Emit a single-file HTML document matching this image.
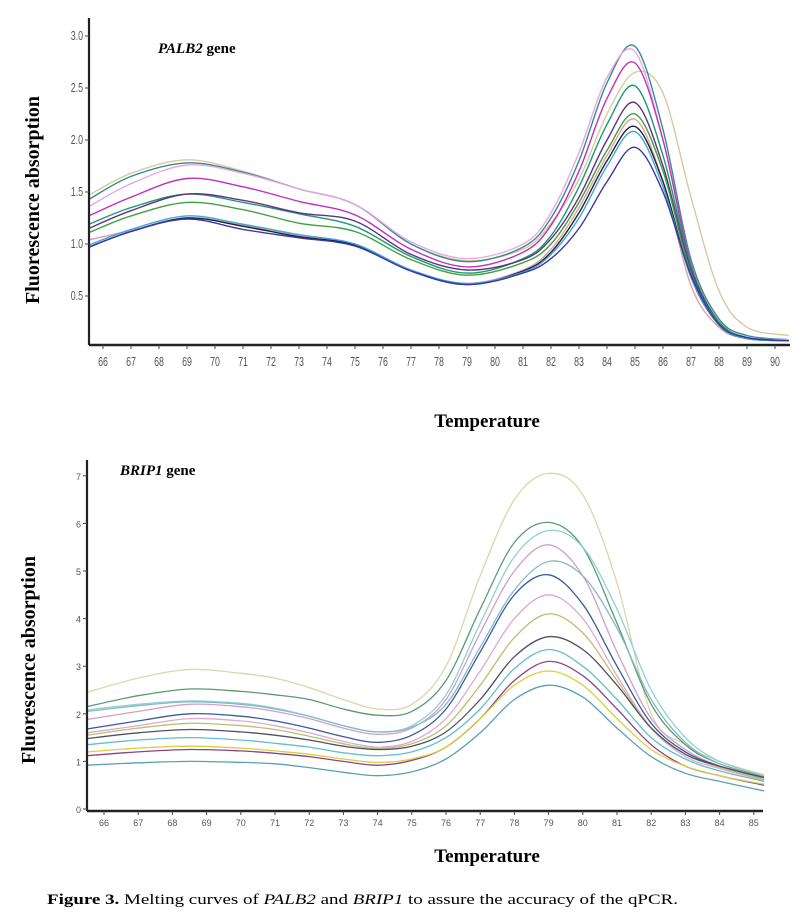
<!DOCTYPE html>
<html><head><meta charset="utf-8">
<style>
html,body{margin:0;padding:0;background:#fff;}
svg{display:block;}
.tick{font-family:"Liberation Sans",sans-serif;fill:#555;}
.serif{font-family:"Liberation Serif",serif;}
</style></head>
<body>
<svg id="fig" width="793" height="920" viewBox="0 0 793 920">
  <g id="top"></g>
  <g id="bot"></g>
  <text class="serif" x="158" y="53" font-size="15" font-weight="bold"><tspan font-style="italic">PALB2</tspan> gene</text>
  <text class="serif" transform="translate(39,200) rotate(-90)" text-anchor="middle" font-size="20" font-weight="bold">Fluorescence absorption</text>
  <text class="serif" x="487" y="427" text-anchor="middle" font-size="19" font-weight="bold">Temperature</text>
  <text class="serif" x="120" y="475" font-size="15" font-weight="bold"><tspan font-style="italic">BRIP1</tspan> gene</text>
  <text class="serif" transform="translate(35,660) rotate(-90)" text-anchor="middle" font-size="20" font-weight="bold">Fluorescence absorption</text>
  <text class="serif" x="487" y="862" text-anchor="middle" font-size="19" font-weight="bold">Temperature</text>
  <text class="serif" x="47" y="904" font-size="15" textLength="631" lengthAdjust="spacingAndGlyphs"><tspan font-weight="bold">Figure 3.</tspan> Melting curves of <tspan font-style="italic">PALB2</tspan> and <tspan font-style="italic">BRIP1</tspan> to assure the accuracy of the qPCR.</text>
</svg>
<script>
// ---- PALB2 data ----
const topTemps = [65.5,67,69,71,73,75,77,79,81,82,83,84,85,86,87,88,89,90.5];
const topXTicks = [66,67,68,69,70,71,72,73,74,75,76,77,78,79,80,81,82,83,84,85,86,87,88,89,90];
const topYTicks = [0.5,1.0,1.5,2.0,2.5,3.0];
const topColors = ["#d8c9a0","#3a8a8a","#e8a8e8","#c030c0","#1a9a70","#603080","#40a040","#e0a0a0","#202030","#40a8d8","#3838a8"];
const topTan = [1.47,1.68,1.81,1.70,1.53,1.38,1.00,0.84,0.95,1.20,1.62,2.25,2.65,2.45,1.45,0.55,0.20,0.12];
const topTeal = [1.43,1.65,1.78,1.69,1.53,1.38,1.00,0.83,0.97,1.25,1.80,2.55,2.90,2.10,0.85,0.28,0.12,0.08];
const topPink = [1.36,1.58,1.76,1.68,1.53,1.38,1.02,0.86,1.00,1.30,1.88,2.60,2.85,2.00,0.80,0.25,0.10,0.08];
const topMagenta = [1.27,1.45,1.63,1.55,1.41,1.28,0.95,0.78,0.92,1.18,1.70,2.40,2.74,2.00,0.80,0.25,0.10,0.07];
const topSeaGreen = [1.19,1.35,1.48,1.40,1.29,1.17,0.88,0.72,0.86,1.08,1.55,2.15,2.52,1.85,0.78,0.25,0.10,0.07];
const topPurple = [1.15,1.32,1.48,1.42,1.30,1.22,0.90,0.75,0.85,1.05,1.45,2.00,2.36,1.75,0.75,0.25,0.10,0.07];
const topGreen = [1.11,1.27,1.40,1.33,1.20,1.12,0.85,0.70,0.82,1.00,1.40,1.90,2.25,1.70,0.72,0.25,0.10,0.07];
const topSalmon = [1.04,1.13,1.25,1.18,1.08,1.00,0.75,0.62,0.75,0.95,1.35,1.85,2.20,1.60,0.60,0.20,0.09,0.07];
const topBlack = [0.97,1.12,1.25,1.17,1.07,0.99,0.74,0.61,0.74,0.92,1.30,1.80,2.13,1.60,0.68,0.22,0.09,0.07];
const topLightBlue = [0.99,1.14,1.27,1.19,1.09,1.00,0.75,0.62,0.73,0.90,1.25,1.75,2.08,1.55,0.68,0.22,0.09,0.07];
const topBlue = [0.97,1.12,1.24,1.14,1.06,0.98,0.74,0.61,0.72,0.86,1.15,1.60,1.93,1.50,0.70,0.23,0.10,0.07];
const topSeries = [topTan,topTeal,topPink,topMagenta,topSeaGreen,topPurple,topGreen,topSalmon,topBlack,topLightBlue,topBlue];

// ---- BRIP1 data ----
const botTemps = [65.5,67,68.5,70,71,72,73,74,75,76,77,78,79,80,81,82,83,84,85.3];
const botXTicks = [66,67,68,69,70,71,72,73,74,75,76,77,78,79,80,81,82,83,84,85];
const botYTicks = [0,1,2,3,4,5,6,7];
const botColors = ["#d8d8a8","#5a9a70","#90d0d0","#d0a0c8","#88b8c8","#3a5a9a","#e0a8d0","#b8c070","#505060","#60c0c8","#884488","#d8d040","#5aa0b0"];
const botYellow = [2.45,2.75,2.93,2.85,2.75,2.55,2.3,2.1,2.2,3.0,4.9,6.5,7.05,6.6,4.75,2.0,1.35,1.0,0.72];
const botGreen = [2.15,2.38,2.52,2.47,2.4,2.3,2.1,1.97,2.05,2.7,4.2,5.6,6.02,5.5,3.9,2.2,1.35,0.95,0.68];
const botLightCyan = [2.08,2.2,2.27,2.22,2.12,1.95,1.75,1.62,1.75,2.4,3.9,5.3,5.85,5.5,4.2,2.5,1.5,1.0,0.7];
const botPink = [1.88,2.05,2.2,2.15,2.05,1.9,1.7,1.57,1.7,2.3,3.7,5.0,5.55,4.9,3.3,1.9,1.25,0.9,0.62];
const botSky = [2.05,2.17,2.25,2.2,2.1,1.95,1.75,1.62,1.72,2.2,3.4,4.6,5.2,4.9,3.8,2.3,1.4,0.95,0.66];
const botBlue = [1.68,1.85,2.0,1.95,1.85,1.7,1.52,1.4,1.55,2.1,3.3,4.5,4.92,4.3,3.0,1.8,1.2,0.9,0.62];
const botPink2 = [1.6,1.75,1.9,1.85,1.75,1.6,1.42,1.3,1.42,1.9,2.9,4.0,4.5,4.0,2.8,1.7,1.1,0.85,0.6];
const botOlive = [1.55,1.7,1.8,1.75,1.67,1.53,1.37,1.27,1.37,1.75,2.6,3.6,4.1,3.7,2.7,1.7,1.15,0.88,0.62];
const botDark = [1.48,1.6,1.67,1.62,1.55,1.45,1.32,1.25,1.32,1.62,2.3,3.2,3.62,3.35,2.6,1.7,1.15,0.9,0.66];
const botCyan = [1.35,1.45,1.5,1.45,1.38,1.3,1.18,1.12,1.2,1.5,2.1,2.95,3.35,3.0,2.3,1.5,1.05,0.8,0.58];
const botPurple = [1.12,1.2,1.25,1.22,1.17,1.1,1.0,0.92,1.02,1.3,1.9,2.7,3.1,2.8,2.1,1.35,0.9,0.7,0.5];
const botLemon = [1.2,1.28,1.32,1.28,1.22,1.15,1.05,0.98,1.05,1.3,1.9,2.6,2.9,2.6,1.9,1.25,0.9,0.7,0.52];
const botTeal = [0.92,0.97,1.0,0.98,0.95,0.87,0.77,0.7,0.78,1.05,1.6,2.3,2.6,2.35,1.7,1.1,0.75,0.58,0.38];
const botSeries = [botYellow,botGreen,botLightCyan,botPink,botSky,botBlue,botPink2,botOlive,botDark,botCyan,botPurple,botLemon,botTeal];

const NS = "http://www.w3.org/2000/svg";
function mk(tag, attrs, parent){
  const e = document.createElementNS(NS, tag);
  for (const k in attrs) e.setAttribute(k, attrs[k]);
  parent.appendChild(e);
  return e;
}
function smoothPath(pts){
  let d = "M" + pts[0][0].toFixed(1) + "," + pts[0][1].toFixed(1);
  for (let i = 0; i < pts.length - 1; i++){
    const p0 = pts[i-1] || pts[i], p1 = pts[i], p2 = pts[i+1], p3 = pts[i+2] || p2;
    const c1x = p1[0] + (p2[0]-p0[0])/6, c1y = p1[1] + (p2[1]-p0[1])/6;
    const c2x = p2[0] - (p3[0]-p1[0])/6, c2y = p2[1] - (p3[1]-p1[1])/6;
    d += " C" + c1x.toFixed(1) + "," + c1y.toFixed(1) + " " + c2x.toFixed(1) + "," + c2y.toFixed(1) + " " + p2[0].toFixed(1) + "," + p2[1].toFixed(1);
  }
  return d;
}

function drawChart(g, cfg){
  const xs = t => cfg.x0 + (t - cfg.t0) * cfg.xk;
  const ys = v => cfg.y0 - v * cfg.yk;
  cfg.series.forEach((s, i) => {
    const pts = cfg.temps.map((t, j) => [xs(t), ys(s[j])]);
    const p = mk("path", {d: smoothPath(pts), fill: "none", stroke: cfg.colors[i], "stroke-width": cfg.sw}, g);
    
    
  });
  const ya = mk("line", {x1: cfg.axX, y1: cfg.axTop, x2: cfg.axX, y2: cfg.axY, stroke: "#222", "stroke-width": 2.2}, g);
  
  
  const xa = mk("line", {x1: cfg.axX, y1: cfg.axY, x2: cfg.axRight, y2: cfg.axY, stroke: "#222", "stroke-width": 2.4}, g);
  
  
  cfg.xTicks.forEach(t => {
    const x = xs(t);
    mk("line", {x1: x, y1: cfg.axY, x2: x, y2: cfg.axY + 4, stroke: "#444", "stroke-width": 1}, g);
    const tx = mk("text", {x: x, y: cfg.axY + cfg.xLabOff, "text-anchor": "middle", "font-size": cfg.fs, class: "tick", fill: cfg.tc,
      transform: cfg.cond ? "translate(" + x + ",0) scale(0.68,1) translate(" + (-x) + ",0)" : ""}, g);
    tx.textContent = t;
    
    
  });
  cfg.yTicks.forEach(v => {
    const y = ys(v);
    mk("line", {x1: cfg.axX - 4, y1: y, x2: cfg.axX, y2: y, stroke: "#444", "stroke-width": 1}, g);
    const tx = mk("text", {x: cfg.axX - 6, y: y + 4, "text-anchor": "end", "font-size": cfg.fs, class: "tick", fill: cfg.tc,
      transform: cfg.cond ? "translate(" + (cfg.axX-6) + ",0) scale(0.68,1) translate(" + (-(cfg.axX-6)) + ",0)" : ""}, g);
    tx.textContent = cfg.yFmt(v);
    
    
  });
}

drawChart(document.getElementById("top"), {
  temps: topTemps, series: topSeries, colors: topColors, xTicks: topXTicks, yTicks: topYTicks,
  x0: 103, t0: 66, xk: 28, y0: 348, yk: 104, sw: 1.4,
  axX: 89, axTop: 18, axY: 345, axRight: 790, xLabOff: 21, fs: 13, cond: true, tc: "#444",
  yFmt: v => v.toFixed(1)
});
drawChart(document.getElementById("bot"), {
  temps: botTemps, series: botSeries, colors: botColors, xTicks: botXTicks, yTicks: botYTicks,
  x0: 104, t0: 66, xk: 34.2, y0: 809, yk: 47.6, sw: 1.3,
  axX: 87, axTop: 460, axY: 811, axRight: 763, xLabOff: 15, fs: 9, cond: false, tc: "#555",
  yFmt: v => String(v)
});
</script>
</body></html>
